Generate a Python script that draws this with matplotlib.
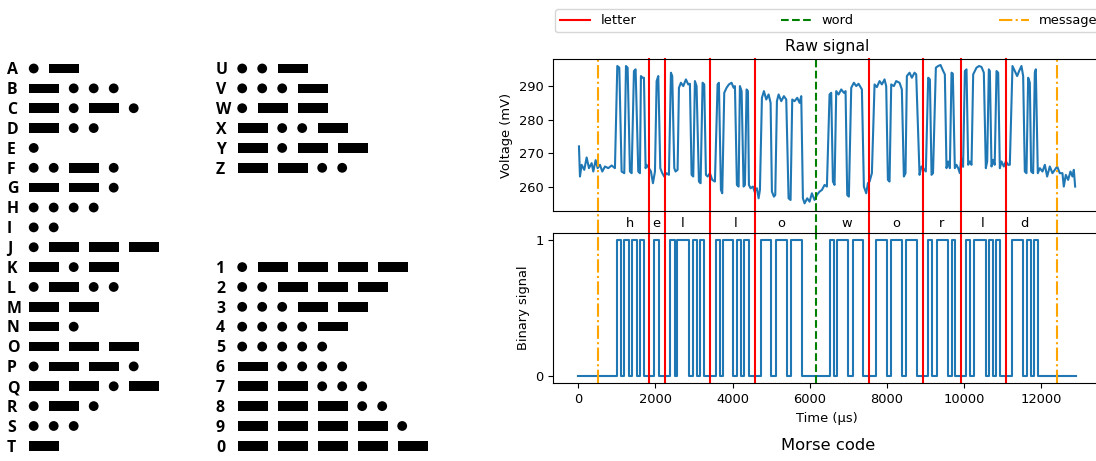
import numpy as np
import matplotlib
matplotlib.use("Agg")
import matplotlib.pyplot as plt
from matplotlib.patches import Circle, Rectangle

# morse code table (left panel)
left_chars = list("ABCDEFGHIJKLMNOPQRST")
left_codes = [".-", "-...", "-.-.", "-..", ".", "..-.", "--.", "....", "..", ".---",
              "-.-", ".-..", "--", "-.", "---", ".--.", "--.-", ".-.", "...", "-"]
right_chars = list("UVWXYZ") + list("1234567890")
right_codes = ["..-", "...-", ".--", "-..-", "-.--", "--..",
               ".----", "..---", "...--", "....-", ".....",
               "-....", "--...", "---..", "----.", "-----"]
right_rows = [0, 1, 2, 3, 4, 5, 10, 11, 12, 13, 14, 15, 16, 17, 18, 19]

# decoded message "hello world"
letter_bounds = [1841, 2240, 3415, 4590, 7545, 8929, 9922, 11089]
word_bounds = [6171]
message_bounds = [519, 12411]
letter_labels = list("helloworld")
letter_centers = [1350, 2035, 2715, 4090, 5275, 6960, 8240, 9425, 10490, 11580]

# binary signal edges (us)
bin_rise = [994, 1192, 1400, 1598, 1970, 2385, 2566, 2964, 3154, 3560, 3741, 4121, 4311,
            4735, 5141, 5530, 6526, 6716, 7114, 7710, 8108, 8488, 9075, 9291, 9680,
            10043, 10268, 10648, 10830, 11236, 11625, 11824]
bin_fall = [1106, 1305, 1512, 1702, 2100, 2506, 2868, 3067, 3266, 3672, 4018, 4216, 4424,
            5011, 5426, 5815, 6630, 7001, 7390, 7995, 8401, 8773, 9179, 9577, 9776,
            10156, 10562, 10743, 10933, 11521, 11729, 11927]
bin_end = 12904

# raw signal (us, mV)
raw_t = [18, 44, 87, 156, 217, 277, 347, 390, 450, 502, 562, 623, 692, 778, 865, 951,
         1012, 1064, 1124, 1193, 1237, 1280, 1340, 1384, 1444, 1487, 1556, 1599, 1625, 1668,
         1703, 1746, 1772, 1833, 1885, 1937, 1989,
         2032, 2075, 2127, 2179, 2230, 2291, 2351,
         2403, 2437, 2490, 2524, 2576, 2611, 2662, 2723, 2792, 2852, 2895, 2939, 2982, 3025,
         3068, 3129, 3172, 3224, 3267, 3311, 3354, 3414, 3475, 3544,
         3613, 3647, 3700, 3734, 3786, 3846, 3907, 3976, 4028, 4063, 4114, 4158, 4192, 4236,
         4287, 4322, 4365, 4400, 4426, 4469, 4530, 4573, 4633, 4677, 4711,
         4763, 4815, 4875, 4936, 4988, 5022, 5074, 5109, 5152, 5195, 5264, 5333, 5394, 5454,
         5506, 5549, 5610, 5679, 5739, 5783, 5826,
         5869, 5938, 5999, 6059, 6128, 6189, 6258, 6319, 6388, 6448,
         6517, 6560, 6604, 6647, 6690, 6751, 6820, 6889, 6932, 6975, 7018, 7079, 7148, 7209,
         7269, 7356, 7407, 7468, 7511, 7554, 7615,
         7684, 7744, 7814, 7874, 7943, 7986, 8030, 8073, 8116, 8185, 8245, 8332, 8392, 8444,
         8487, 8522, 8591, 8652, 8721, 8764, 8851, 8859, 8902, 8945, 9014,
         9075, 9119, 9162, 9200, 9274, 9334, 9395, 9464, 9507, 9550, 9593, 9637,
         9680, 9714, 9766, 9810, 9853, 9896, 9930, 9980,
         10026, 10069, 10112, 10155, 10199, 10242, 10328, 10397, 10458, 10518, 10570, 10605,
         10648, 10674, 10717, 10760, 10800, 10847, 10890, 10933, 10976, 11037, 11089, 11149,
         11192,
         11261, 11322, 11382, 11434, 11494, 11538, 11581, 11624, 11668, 11711, 11745, 11797,
         11840, 11866, 11918,
         11970, 12039, 12100, 12160, 12229, 12298, 12359, 12420, 12488, 12557, 12592, 12644,
         12704, 12765, 12817, 12852, 12886]
raw_mv = [272.1, 263.1, 266.6, 265.1, 268.8, 265.6, 267.1, 264.6, 268.0, 265.6, 266.6, 264.6,
          266.1, 265.6, 266.4, 265.6,
          296.1, 295.6, 264.6, 264.1, 296.1, 295.6, 264.6, 264.1, 294.6, 295.1, 264.6, 264.1,
          293.1, 292.6, 292.6, 265.6, 266.6, 265.6, 264.6, 261.1, 264.6,
          291.6, 293.1, 265.6, 264.1, 263.1, 264.1, 263.6,
          294.1, 293.1, 265.6, 264.6, 265.1, 289.6, 291.1, 290.1, 292.1, 290.6, 290.8, 263.6,
          263.1, 291.6, 290.1, 261.6, 261.1, 291.1, 290.6, 263.6, 263.1, 264.1, 262.1, 261.6,
          290.6, 291.1, 259.1, 258.1, 288.1, 289.6, 290.6, 291.1, 289.6, 290.1, 260.6, 260.1,
          290.1, 288.6, 260.1, 260.6, 289.1, 288.6, 260.6, 259.6, 260.1, 258.6, 259.6, 256.6,
          259.1,
          286.6, 288.6, 286.1, 287.6, 285.1, 258.6, 257.1, 257.6, 285.6, 287.6, 285.6, 287.1,
          286.1, 256.6, 256.1, 286.1, 285.6, 286.6, 285.1, 287.1, 256.6,
          255.1, 256.6, 255.6, 258.1, 256.1, 257.6, 258.6, 259.1, 260.6, 260.1,
          287.6, 288.1, 261.6, 260.6, 288.6, 287.6, 289.1, 288.1, 288.6, 257.6, 257.1, 289.6,
          291.1, 290.1, 290.8, 289.1, 260.1, 258.1, 261.1, 261.6, 264.1,
          290.6, 289.8, 291.6, 290.6, 292.1, 290.1, 262.1, 261.6, 290.6, 290.1, 291.6, 291.1,
          289.1, 263.1, 264.1, 293.1, 294.1, 292.6, 294.1, 293.6, 263.6, 264.1, 266.1, 265.6,
          264.6,
          292.6, 292.1, 263.6, 264.1, 295.6, 296.1, 296.4, 294.6, 293.6, 265.6, 267.6, 265.6,
          294.1, 293.8, 265.6, 266.6, 265.6, 264.1, 268.6, 266.0,
          294.6, 295.1, 266.6, 267.6, 266.6, 293.6, 295.6, 296.1, 295.8, 294.1, 265.6, 267.6,
          295.1, 294.6, 266.1, 268.1, 266.6, 294.6, 294.1, 265.6, 267.6, 266.1, 267.6, 266.6,
          266.6,
          296.1, 294.6, 293.1, 294.6, 296.1, 293.1, 264.6, 264.1, 292.6, 291.1, 264.6, 264.1,
          294.1, 295.1, 264.1,
          265.6, 264.6, 266.6, 263.1, 266.1, 264.1, 265.1, 266.1, 264.1, 264.1, 260.1, 263.6,
          262.1, 264.6, 263.1, 265.1, 260.1]

plt.rcParams["font.size"] = 9.4

W, H = 1096, 461
fig = plt.figure(figsize=(W / 100, H / 100), dpi=100)


def draw_code(ax, x0, y, code):
    x = x0
    for s in code:
        if s == ".":
            ax.add_patch(Circle((x + 4.7, y), 4.9, color="black", lw=0))
            x += 20
        else:
            ax.add_patch(Rectangle((x, y - 4.8), 30, 9.6, color="black", lw=0))
            x += 40


# left panel, drawn in pixel units
axm = fig.add_axes([0, 0, 440 / W, 1])
axm.set_xlim(0, 440)
axm.set_ylim(H, 0)
axm.axis("off")
row0, pitch = 68.5, 19.86
for i, (ch, code) in enumerate(zip(left_chars, left_codes)):
    y = row0 + i * pitch
    axm.text(7, y + 5.8, ch, family="Open Sans", weight="bold", fontsize=11.4, va="baseline")
    draw_code(axm, 29, y, code)
for r, ch, code in zip(right_rows, right_chars, right_codes):
    y = row0 + r * pitch
    axm.text(216, y + 5.8, ch, family="Open Sans", weight="bold", fontsize=11.4, va="baseline")
    draw_code(axm, 237.5, y, code)

# right panel
left = 553.4 / W
width = 547.3 / W
ax_raw = fig.add_axes([left, 1 - 210.7 / H, width, 151.4 / H])
ax_bin = fig.add_axes([left, 1 - 383.3 / H, width, 150.6 / H], sharex=ax_raw)

ax_raw.plot(raw_t, raw_mv, color="C0", lw=1.5)
ax_raw.set_ylim(252.9, 298.1)
ax_raw.set_ylabel("Voltage (mV)")
ax_raw.set_title("Raw signal", fontsize=11.3, pad=6)
ax_raw.tick_params(bottom=False, labelbottom=False)

edges_x = np.concatenate(([0], np.column_stack((bin_rise, bin_fall)).ravel(), [bin_end]))
edges_y = np.concatenate(([0], np.tile([1, 0], len(bin_rise)), [0]))
ax_bin.step(edges_x, edges_y, where="post", color="C0", lw=1.5)
ax_bin.set_ylim(-0.05, 1.05)
ax_bin.set_yticks([0, 1])
ax_bin.set_ylabel("Binary signal")
ax_bin.set_xlabel("Time (\u00b5s)")
ax_bin.set_xlim(-645, 13549)
ax_bin.set_xticks([0, 2000, 4000, 6000, 8000, 10000, 12000])

gap = (232.7 - 210.7) / 151.4
handles = []
for xs, c, ls, lab in [(letter_bounds, "r", "-", "letter"),
                       (word_bounds, "g", "--", "word"),
                       (message_bounds, "orange", "-.", "message")]:
    for j, x in enumerate(xs):
        ln = ax_raw.axvline(x, ymin=-gap, ymax=1, color=c, ls=ls, lw=1.5, clip_on=False)
        ax_bin.axvline(x, color=c, ls=ls, lw=1.5)
        if j == 0:
            ln.set_label(lab)
            handles.append(ln)

for x, ch in zip(letter_centers, letter_labels):
    ax_bin.text(x, 1.058, ch, transform=ax_bin.get_xaxis_transform(), ha="center", va="center")

fig.legend(handles=handles, loc="lower left", ncol=3, mode="expand", borderaxespad=0,
           bbox_to_anchor=(555 / W, 1 - 32.5 / H, 548 / W, 27 / H), handlelength=2.3)

fig.text(828 / W, 1 - 445 / H, "Morse code", ha="center", va="center", fontsize=11.8)

fig.savefig("out.png", dpi=100)
